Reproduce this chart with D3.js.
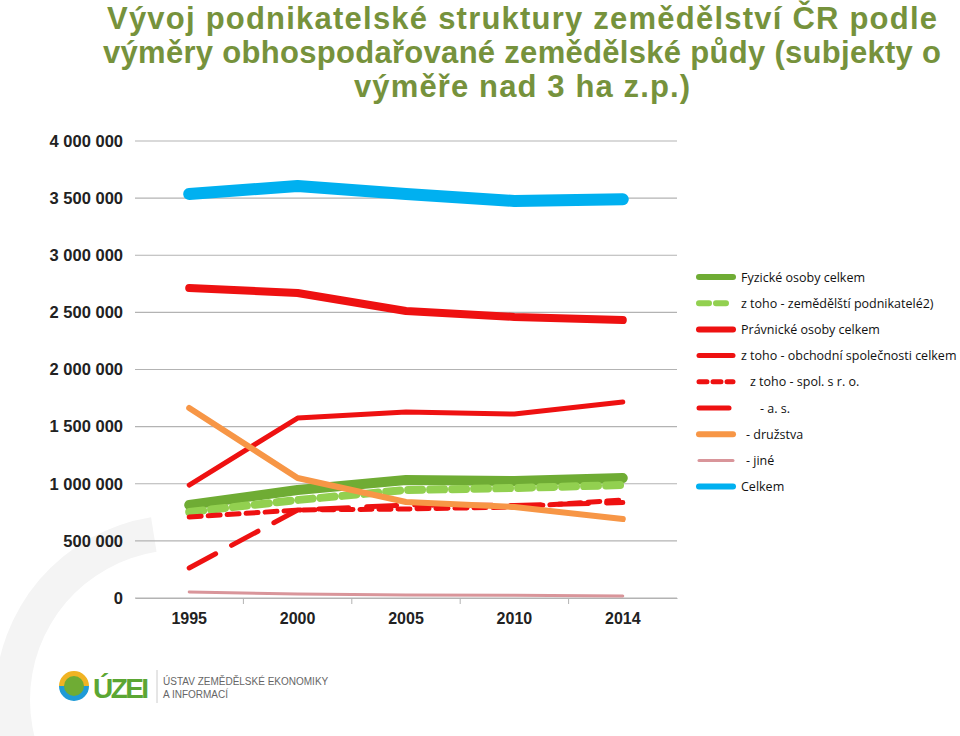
<!DOCTYPE html>
<html><head><meta charset="utf-8">
<script src="https://cdn.jsdelivr.net/npm/d3@7"></script>
<style>body{margin:0;background:#fff}svg{display:block}</style>
</head><body>
<div id="chart"></div>
<script>
const years = ['1995', '2000', '2005', '2010', '2014'];
const yTicks = [0, 500000, 1000000, 1500000, 2000000, 2500000, 3000000, 3500000, 4000000];
const fyzicke = [814000, 945000, 1033000, 1024000, 1050000];
const zemPodnikatele = [753000, 858000, 945000, 963000, 989000];
const pravnicke = [2713000, 2670000, 2512000, 2460000, 2433000];
const obchodni = [989000, 1575000, 1628000, 1610000, 1716000];
const sro = [709000, 770000, 779000, 796000, 858000];
const as = [263000, 770000, 814000, 810000, 835000];
const druzstva = [1663000, 1050000, 840000, 796000, 691000];
const jine = [53000, 35000, 26000, 24000, 18000];
const celkem = [3536000, 3606000, 3536000, 3475000, 3490000];

const series = [
  {name: 'Fyzické osoby celkem', values: fyzicke, color: '#6FAC34', width: 10, dash: null, ldash: null, dx: 0},
  {name: 'z toho - zemědělští podnikatelé2)', values: zemPodnikatele, color: '#92D050', width: 8, dash: '14,8', ldash: '10,7', dx: 0},
  {name: 'Právnické osoby celkem', values: pravnicke, color: '#EE1111', width: 8, dash: null, ldash: null, dx: 0},
  {name: 'z toho - obchodní společnosti celkem', values: obchodni, color: '#EE1111', width: 5, dash: null, ldash: null, dx: 0},
  {name: 'z toho - spol. s r. o.', values: sro, color: '#EE1111', width: 5, dash: '12,7', ldash: '8,6', dx: 9},
  {name: '- a. s.', values: as, color: '#EE1111', width: 5, dash: '30,18', ldash: null, dx: 19},
  {name: '- družstva', values: druzstva, color: '#F79646', width: 6, dash: null, ldash: null, dx: 5},
  {name: '- jiné', values: jine, color: '#D9959A', width: 3, dash: null, ldash: null, dx: 5},
  {name: 'Celkem', values: celkem, color: '#00B0F0', width: 12, dash: null, ldash: null, dx: 0}
];

const svg = d3.select('#chart').append('svg').attr('width', 960).attr('height', 736);

// faint background arc
svg.append('path')
  .attr('d', d3.arc()({innerRadius: 150, outerRadius: 185, startAngle: Math.PI * 1.05, endAngle: Math.PI * 1.95}))
  .attr('transform', 'translate(180,700)')
  .attr('fill', '#f4f4f4');

const title = ['Vývoj podnikatelské struktury zemědělství  ČR podle',
  'výměry obhospodařované zemědělské půdy (subjekty o',
  'výměře nad 3 ha z.p.)'];
svg.append('g').selectAll('text').data(title).join('text')
  .attr('x', 522).attr('y', (d, i) => 29 + i * 34)
  .attr('text-anchor', 'middle')
  .attr('font-family', 'Liberation Sans, Arial, sans-serif')
  .attr('font-weight', 'bold').attr('font-size', 31)
  .attr('textLength', (d, i) => [830, 838, 336][i])
  .attr('fill', '#76923C')
  .text(d => d);

const x = d3.scaleBand().domain(years).range([135, 677]);
const y = d3.scaleLinear().domain([0, 4000000]).range([598, 141]);

// gridlines
svg.append('g').selectAll('line').data(yTicks).join('line')
  .attr('x1', 135).attr('x2', 677)
  .attr('y1', d => y(d)).attr('y2', d => y(d))
  .attr('stroke', '#b3b3b3').attr('stroke-width', 1.2);

const fmt = v => d3.format(',')(v).replace(/,/g, ' ');
const yAxis = svg.append('g').attr('transform', 'translate(135,0)')
  .call(d3.axisLeft(y).tickValues(yTicks).tickFormat(fmt).tickSize(0).tickPadding(12));
yAxis.select('.domain').remove();
yAxis.selectAll('text').attr('font-family', 'Liberation Sans, Arial, sans-serif')
  .attr('font-weight', 'bold').attr('font-size', 16.5).attr('fill', '#222');

const xAxis = svg.append('g').attr('transform', 'translate(0,598)')
  .call(d3.axisBottom(x).tickSize(0).tickPadding(15));
xAxis.select('.domain').attr('stroke', '#b3b3b3');
xAxis.selectAll('text').attr('font-family', 'Liberation Sans, Arial, sans-serif')
  .attr('font-weight', 'bold').attr('font-size', 16).attr('fill', '#222');
svg.append('g').selectAll('line').data(years.slice(1)).join('line')
  .attr('x1', d => x(d)).attr('x2', d => x(d)).attr('y1', 598).attr('y2', 604)
  .attr('stroke', '#b3b3b3');

const line = d3.line().x((d, i) => x(years[i]) + x.bandwidth() / 2).y(d => y(d));
svg.append('g').selectAll('path').data(series).join('path')
  .attr('d', d => line(d.values))
  .attr('fill', 'none')
  .attr('stroke', d => d.color)
  .attr('stroke-width', d => d.width)
  .attr('stroke-dasharray', d => d.dash)
  .attr('stroke-linecap', 'round').attr('stroke-linejoin', 'round');

// legend
const lg = svg.append('g').selectAll('g').data(series).join('g')
  .attr('transform', (d, i) => `translate(697,${277 + i * 26.2})`);
lg.append('line').attr('x1', 2).attr('x2', d => d.dx > 5 && !d.ldash ? 32 : 36)
  .attr('stroke', d => d.color).attr('stroke-width', d => Math.min(d.width, 6))
  .attr('stroke-dasharray', d => d.ldash)
  .attr('stroke-linecap', 'round');
lg.append('text').attr('x', d => 44 + d.dx).attr('y', 4.5)
  .attr('font-family', 'Open Sans, sans-serif').attr('font-size', 12.5)
  .attr('fill', '#111').text(d => d.name);

// logo
const logo = svg.append('g').attr('transform', 'translate(74,686)');
logo.append('circle').attr('r', 14).attr('fill', '#6FAC34');
logo.append('path').attr('d', d3.arc()({innerRadius: 10, outerRadius: 15, startAngle: -Math.PI / 2, endAngle: Math.PI / 2})).attr('fill', '#F0B323');
logo.append('path').attr('d', d3.arc()({innerRadius: 10, outerRadius: 15, startAngle: Math.PI / 2, endAngle: Math.PI * 1.5})).attr('fill', '#1E9BD7');
svg.append('text').attr('x', 93).attr('y', 698).text('ÚZEI')
  .attr('font-family', 'Liberation Sans, Arial, sans-serif').attr('font-weight', 'bold')
  .attr('font-size', 28).attr('textLength', 56).attr('fill', '#5BA633');
svg.append('line').attr('x1', 157).attr('x2', 157).attr('y1', 670).attr('y2', 703).attr('stroke', '#ccc');
svg.append('g').selectAll('text').data(['ÚSTAV ZEMĚDĚLSKÉ EKONOMIKY', 'A INFORMACÍ']).join('text')
  .attr('x', 163).attr('y', (d, i) => 685 + i * 13).text(d => d)
  .attr('font-family', 'Liberation Sans, Arial, sans-serif').attr('font-size', 10).attr('fill', '#666');
</script>
</body></html>
